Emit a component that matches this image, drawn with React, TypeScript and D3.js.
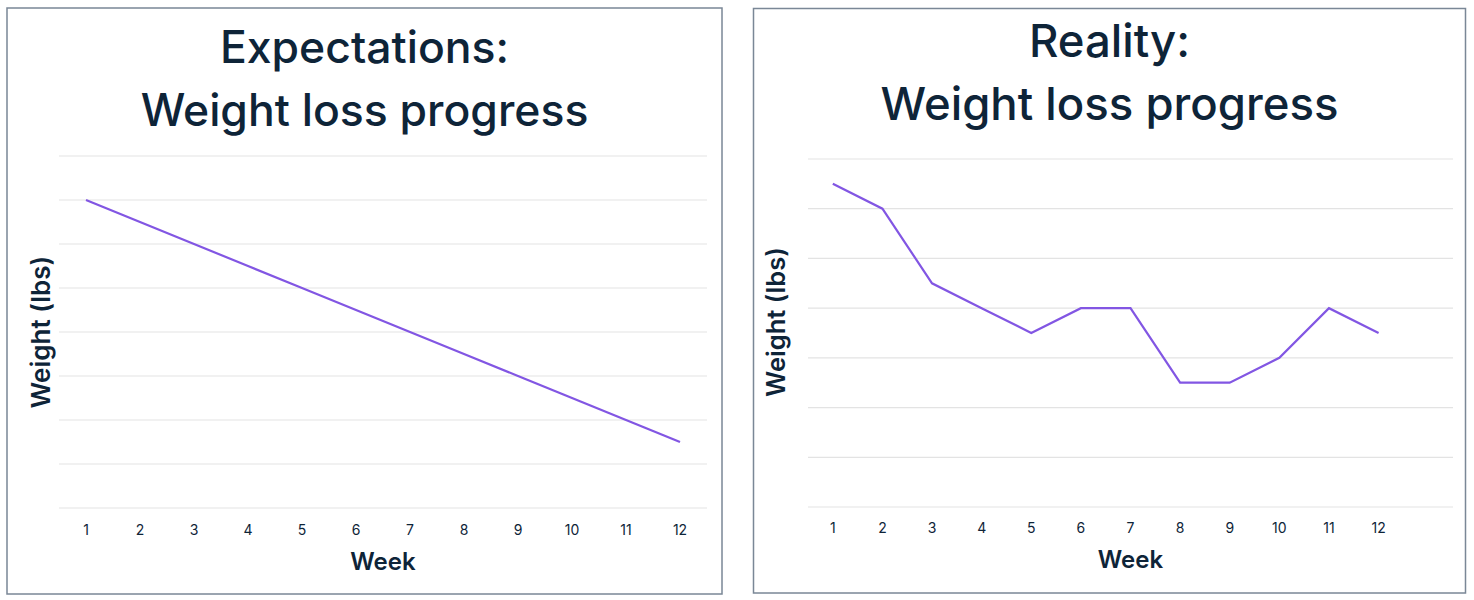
import React from "react";
import * as d3 from "d3";

const weeks = [1, 2, 3, 4, 5, 6, 7, 8, 9, 10, 11, 12];
const expectedWeight = [7, 6.5, 6, 5.5, 5, 4.5, 4, 3.5, 3, 2.5, 2, 1.5];
const actualWeight = [6.5, 6, 4.5, 4, 3.5, 4, 4, 2.5, 2.5, 3, 4, 3.5];
const leftGridValues = [0, 1, 2, 3, 4, 5, 6, 7, 8];
const rightGridValues = [0, 1, 2, 3, 4, 5, 6, 7];

const TITLE = "#0e2438";
const LINE = "#8256e3";
const GRID = "#e3e3e3";
const BORDER = "#7a8796";
const FONT = "Inter, 'Noto Sans', sans-serif";

type PanelProps = {
  box: { x: number; y: number; w: number; h: number };
  title: string[];
  titleY: number[];
  titleSize: number;
  values: number[];
  grid: number[];
  xRange: [number, number];
  xDomain: [number, number];
  yRange: [number, number];
  tickY: number;
  weekY: number;
  ylabelX: number;
  ylabelY: number;
  ylabelSize: number;
};

function Panel(p: PanelProps) {
  const x = d3.scaleLinear().domain(p.xDomain).range(p.xRange);
  const y = d3
    .scaleLinear()
    .domain([0, d3.max(p.grid) as number])
    .range(p.yRange);
  const line = d3
    .line<number>()
    .x((_, i) => x(weeks[i]))
    .y((d) => y(d));
  const cx = p.box.x + p.box.w / 2;
  return (
    <g>
      <rect
        x={p.box.x}
        y={p.box.y}
        width={p.box.w}
        height={p.box.h}
        fill="#fff"
        stroke={BORDER}
        strokeWidth={1.5}
      />
      {p.title.map((t, i) => (
        <text
          key={i}
          x={cx}
          y={p.titleY[i]}
          textAnchor="middle"
          fontFamily={FONT}
          fontWeight={500}
          fontSize={p.titleSize}
          fill={TITLE}
        >
          {t}
        </text>
      ))}
      {p.grid.map((g) => (
        <line
          key={g}
          x1={p.xRange[0]}
          x2={p.xRange[1]}
          y1={y(g)}
          y2={y(g)}
          stroke={GRID}
          strokeWidth={1.2}
        />
      ))}
      {weeks.map((w) => (
        <text
          key={w}
          x={x(w)}
          y={p.tickY}
          textAnchor="middle"
          fontFamily={FONT}
          fontSize={14}
          fill={TITLE}
        >
          {w}
        </text>
      ))}
      <path d={line(p.values) || ""} fill="none" stroke={LINE} strokeWidth={2.2} />
      <text
        x={(p.xRange[0] + p.xRange[1]) / 2}
        y={p.weekY}
        textAnchor="middle"
        fontFamily={FONT}
        fontWeight={600}
        fontSize={24}
        fill={TITLE}
      >
        Week
      </text>
      <text
        transform={`translate(${p.ylabelX},${p.ylabelY}) rotate(-90)`}
        textAnchor="middle"
        fontFamily={FONT}
        fontWeight={600}
        fontSize={p.ylabelSize}
        fill={TITLE}
      >
        Weight (lbs)
      </text>
    </g>
  );
}

export default function App() {
  return (
    <svg
      width={1474}
      height={600}
      style={{ position: "absolute", left: 0, top: 0, background: "#fff" }}
    >
      <Panel
        box={{ x: 7, y: 8, w: 715, h: 586 }}
        title={["Expectations:", "Weight loss progress"]}
        titleY={[63, 126]}
        titleSize={44.5}
        values={expectedWeight}
        grid={leftGridValues}
        xDomain={[0.5, 12.5]}
        xRange={[59, 707]}
        yRange={[508, 156]}
        tickY={535}
        weekY={570}
        ylabelX={50}
        ylabelY={332}
        ylabelSize={26}
      />
      <Panel
        box={{ x: 753.5, y: 8.5, w: 712, h: 584.5 }}
        title={["Reality:", "Weight loss progress"]}
        titleY={[57, 120]}
        titleSize={45.5}
        values={actualWeight}
        grid={rightGridValues}
        xDomain={[0.5, 13.5]}
        xRange={[808, 1453]}
        yRange={[507, 159]}
        tickY={533}
        weekY={568}
        ylabelX={785}
        ylabelY={322}
        ylabelSize={25.5}
      />
    </svg>
  );
}
